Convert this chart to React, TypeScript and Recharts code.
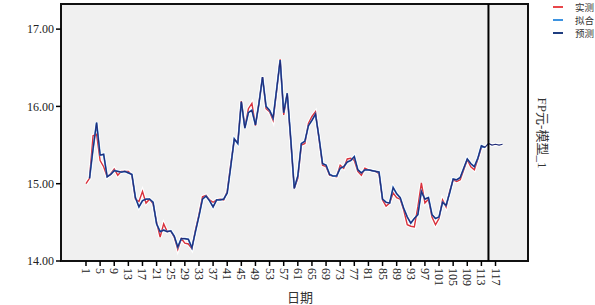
import React from 'react';
import { LineChart, Line, XAxis, YAxis, CartesianGrid, ReferenceArea, ReferenceLine } from 'recharts';

// observed values, periods 1..114
const actual = [
  15.0, 15.07, 15.62, 15.64, 15.3, 15.22, 15.09, 15.13, 15.19, 15.11,
  15.16, 15.16, 15.16, 15.11, 14.8, 14.77, 14.9, 14.75, 14.8, 14.74,
  14.5, 14.31, 14.48, 14.38, 14.39, 14.31, 14.15, 14.29, 14.23, 14.22,
  14.16, 14.4, 14.6, 14.83, 14.85, 14.79, 14.76, 14.79, 14.8, 14.79,
  14.9, 15.25, 15.57, 15.54, 16.07, 15.73, 15.97, 16.04, 15.75, 16.05,
  16.38, 15.97, 15.93, 15.82, 16.2, 16.61, 15.89, 16.17, 15.55, 14.94,
  15.07, 15.5, 15.52, 15.78, 15.87, 15.93, 15.58, 15.24, 15.22, 15.11,
  15.1, 15.09, 15.24, 15.2, 15.32, 15.33, 15.3, 15.16, 15.11, 15.2,
  15.18, 15.17, 15.16, 15.13, 14.79, 14.71, 14.75, 14.88, 14.82, 14.8,
  14.66, 14.47, 14.45, 14.44, 14.7, 15.01, 14.75, 14.8, 14.57, 14.47,
  14.55, 14.79, 14.7, 14.9, 15.05, 15.03, 15.05, 15.18, 15.31, 15.22,
  15.18, 15.32, 15.47, 15.47,
];

// fitted values, periods 1..114 (none for period 1)
const fitted = [
  null, 15.07, 15.45, 15.79, 15.37, 15.38, 15.09, 15.12, 15.17, 15.16,
  15.15, 15.16, 15.14, 15.12, 14.82, 14.7, 14.78, 14.8, 14.8, 14.76,
  14.48, 14.38, 14.4, 14.38, 14.39, 14.32, 14.18, 14.29, 14.29, 14.28,
  14.17, 14.38, 14.58, 14.8, 14.84, 14.78, 14.7, 14.79, 14.79, 14.8,
  14.88, 15.22, 15.58, 15.52, 16.06, 15.72, 15.92, 15.95, 15.76, 16.04,
  16.38, 16.0, 15.95, 15.85, 16.22, 16.6, 15.92, 16.17, 15.58, 14.94,
  15.1, 15.52, 15.55, 15.75, 15.82, 15.9, 15.6, 15.26, 15.24, 15.12,
  15.1, 15.1, 15.2, 15.22, 15.28, 15.3, 15.35, 15.18, 15.14, 15.18,
  15.18, 15.17, 15.16, 15.15, 14.8, 14.76, 14.75, 14.95, 14.87, 14.82,
  14.68, 14.57, 14.49, 14.55, 14.6, 14.9, 14.8, 14.82, 14.6, 14.55,
  14.57, 14.76, 14.72, 14.88, 15.06, 15.05, 15.08, 15.2, 15.32, 15.26,
  15.22, 15.33, 15.49, 15.47,
];

// forecast, periods 115..119
const forecast = [15.52, 15.5, 15.51, 15.5, 15.51];

const xTicks = [1, 5, 9, 13, 17, 21, 25, 29, 33, 37, 41, 45, 49, 53, 57, 61, 65, 69, 73, 77, 81, 85, 89, 93, 97, 101, 105, 109, 113, 117];
const yTicks = [14, 15, 16, 17];

const X_MIN = -6.08;
const X_MAX = 126.2;
const Y_MIN = 14;
const Y_MAX = 17.325;
const FORECAST_START = 115;

const RED = '#d9323d';
const LIGHT_BLUE = '#4a90d9';
const NAVY = '#202c78';

const predicted = [...fitted, ...forecast];
const data = predicted.map((p, i) => ({
  x: i + 1,
  actual: i < actual.length ? actual[i] : null,
  fit: i < fitted.length ? fitted[i] : null,
  pred: p,
}));

const XTick = (props: any) => {
  const { x, y, payload } = props;
  return (
    <text
      x={x}
      y={y}
      transform={`rotate(90 ${x} ${y})`}
      textAnchor="start"
      dominantBaseline="central"
      fontSize={12}
      fontFamily="Liberation Serif"
      fill="#222"
    >
      {payload.value}
    </text>
  );
};

const legendItems = [
  { label: '实测', color: '#e8464a' },
  { label: '拟合', color: '#3d93e0' },
  { label: '预测', color: '#1f3d80' },
];

export default function App() {
  return (
    <div style={{ position: 'absolute', left: 0, top: 0, width: 595, height: 305, background: '#fff', overflow: 'hidden' }}>
      <LineChart width={595} height={305} data={data} margin={{ top: 4, right: 67, bottom: 0, left: 0 }}>
        <CartesianGrid fill="#f0f0f0" horizontal={false} vertical={false} />
        <XAxis
          dataKey="x"
          type="number"
          domain={[X_MIN, X_MAX]}
          ticks={xTicks}
          interval={0}
          allowDataOverflow
          height={44}
          axisLine={false}
          tickSize={5}
          tickMargin={2}
          tickLine={{ stroke: '#000', strokeWidth: 1.5 }}
          tick={<XTick />}
        />
        <YAxis
          type="number"
          domain={[Y_MIN, Y_MAX]}
          ticks={yTicks}
          interval={0}
          allowDataOverflow
          width={61}
          axisLine={false}
          tickSize={5}
          tickMargin={2}
          tickLine={{ stroke: '#000', strokeWidth: 1.5 }}
          tickFormatter={(v: number) => v.toFixed(2)}
          tick={{ fontSize: 12, fontFamily: 'Liberation Serif', fill: '#222' }}
        />
        <Line dataKey="actual" stroke="#fff" strokeWidth={3.5} dot={false} activeDot={false} isAnimationActive={false} />
        <Line dataKey="pred" stroke="#fff" strokeWidth={3.5} dot={false} activeDot={false} isAnimationActive={false} />
        <Line dataKey="actual" stroke={RED} strokeWidth={1.4} dot={false} activeDot={false} isAnimationActive={false} />
        <Line dataKey="fit" stroke={LIGHT_BLUE} strokeWidth={1.8} dot={false} activeDot={false} isAnimationActive={false} />
        <Line dataKey="pred" stroke={NAVY} strokeWidth={1.2} dot={false} activeDot={false} isAnimationActive={false} />
        <ReferenceLine x={FORECAST_START} stroke="#000" strokeWidth={2} />
        <ReferenceArea x1={X_MIN} x2={X_MAX} y1={Y_MIN} y2={Y_MAX} fill="none" stroke="#111" strokeWidth={2} />
      </LineChart>

      {legendItems.map((item, i) => (
        <div key={item.label} style={{ position: 'absolute', left: 553, top: 1 + i * 13, height: 12, display: 'flex', alignItems: 'center' }}>
          <div style={{ width: 10, height: 2, background: item.color }} />
          <span style={{ marginLeft: 12, fontSize: 9.5, lineHeight: '11px', fontFamily: 'Noto Sans CJK SC', color: '#333', whiteSpace: 'nowrap' }}>{item.label}</span>
        </div>
      ))}

      <div style={{ position: 'absolute', left: 280, top: 289, width: 40, textAlign: 'center', fontSize: 13, fontFamily: 'Noto Sans CJK SC', color: '#333', lineHeight: '15px' }}>
        日期
      </div>

      <div
        style={{
          position: 'absolute',
          left: 542,
          top: 133,
          transform: 'translate(-50%, -50%) rotate(90deg)',
          fontSize: 13,
          fontFamily: 'Liberation Serif, Noto Sans CJK SC',
          color: '#333',
          whiteSpace: 'nowrap',
          lineHeight: '16px',
        }}
      >
        FP元-模型_1
      </div>
    </div>
  );
}
